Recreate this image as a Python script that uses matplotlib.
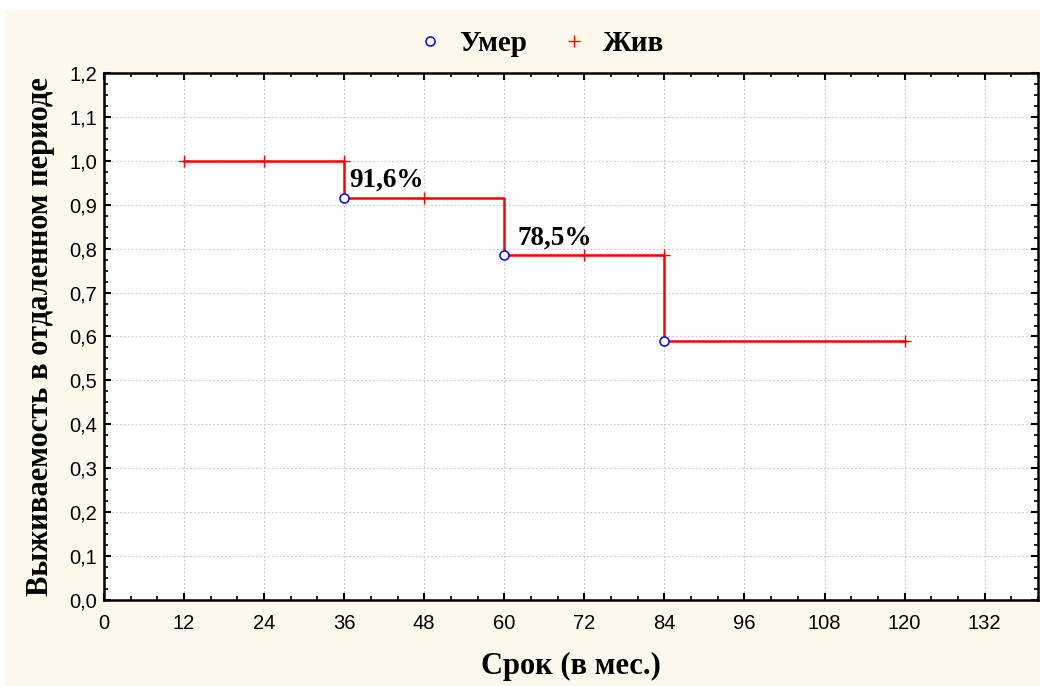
import numpy as np
import matplotlib
matplotlib.use('Agg')
import matplotlib.pyplot as plt
from matplotlib.patches import Rectangle
from matplotlib.lines import Line2D
from matplotlib.ticker import MultipleLocator, FuncFormatter

# ступенчатая кривая выживаемости
step_x = [12, 36, 36, 60, 60, 84, 84, 120]
step_y = [1.0, 1.0, 0.916, 0.916, 0.785, 0.785, 0.589, 0.589]

# умершие (полные наблюдения)
died_x = [36, 60, 84]
died_y = [0.916, 0.785, 0.589]

# живые (цензурированные)
alive_x = [12, 24, 36, 48, 72, 84, 120]
alive_y = [1.0, 1.0, 1.0, 0.916, 0.785, 0.785, 0.589]

notes = ['91,6%', '78,5%']
note_x = [36.8, 62.0]
note_y = [0.956, 0.824]

x_ticks = list(range(0, 133, 12))

serif = ['Liberation Serif', 'DejaVu Serif']
sans = ['Liberation Sans', 'DejaVu Sans']

fig = plt.figure(figsize=(10.4, 6.86), dpi=100, facecolor='white')
# кремовая подложка
fig.patches.append(Rectangle((5 / 1040, 0), 1, 1 - 10 / 686, transform=fig.transFigure,
                             facecolor='#fdf8ec', edgecolor='none', zorder=-10))

ax = fig.add_axes([104 / 1040, 1 - 600 / 686, (1038 - 104) / 1040, (600 - 73) / 686])
ax.set_facecolor('white')

ax.plot(step_x, step_y, color='red', lw=1.8, zorder=3)
ax.plot(alive_x, alive_y, ls='none', marker='+', ms=8, mew=1.0, color='red', zorder=4)
ax.plot(died_x, died_y, ls='none', marker='o', ms=6.5, mew=1.1, mfc='white', mec='blue', zorder=5)

for t, x, y in zip(notes, note_x, note_y):
    ax.text(x, y, t, family=serif, fontweight='bold', fontsize=19.5, va='center', ha='left', zorder=6)

ax.set_xlim(0, 140)
ax.set_ylim(0, 1.2)
ax.set_xticks(x_ticks)
ax.xaxis.set_minor_locator(MultipleLocator(4))
ax.yaxis.set_major_locator(MultipleLocator(0.1))
ax.yaxis.set_minor_locator(MultipleLocator(0.025))
ax.yaxis.set_major_formatter(FuncFormatter(lambda v, p: ('%.1f' % v).replace('.', ',')))

ax.grid(True, which='major', color='#c4c4c4', ls=(0, (1.5, 2)), lw=0.8)
ax.set_axisbelow(True)

ax.tick_params(which='both', direction='in', top=True, right=True, color='black')
ax.tick_params(which='major', length=5, width=1.5, labelsize=14.5)
ax.tick_params(axis='x', which='major', pad=10)
ax.tick_params(axis='y', which='major', pad=5)
ax.tick_params(which='minor', length=3, width=1.2)
for lab in ax.get_xticklabels() + ax.get_yticklabels():
    lab.set_family(sans)
for sp in ax.spines.values():
    sp.set_linewidth(1.8)

ax.set_xlabel('Срок (в мес.)', family=serif, fontweight='bold', fontsize=22, labelpad=14)
ax.set_ylabel('Выживаемость в отдаленном периоде', family=serif, fontweight='bold',
              fontsize=22, labelpad=10)

handles = [Line2D([], [], ls='none', marker='o', ms=6.5, mew=1.1, mfc='white', mec='blue'),
           Line2D([], [], ls='none', marker='+', ms=8, mew=1.0, color='red')]
fig.legend(handles, ['Умер', 'Жив'], loc='center', bbox_to_anchor=(0.519, 0.937), ncol=2,
           frameon=False, prop={'family': serif, 'weight': 'bold', 'size': 21},
           handlelength=1.0, handletextpad=0.5, columnspacing=1.1)

fig.savefig('out.png', dpi=100, facecolor=fig.get_facecolor())
